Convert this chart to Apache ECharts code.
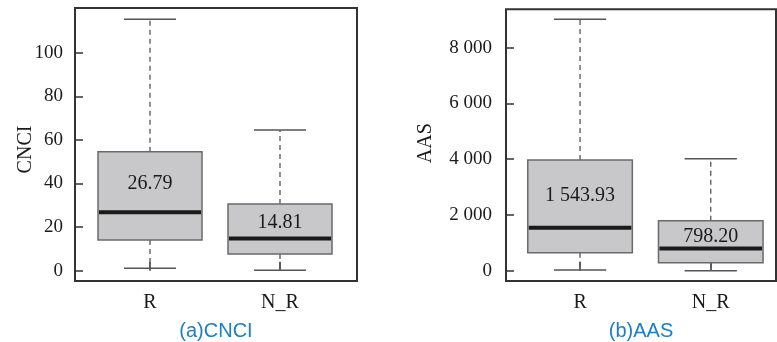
<!DOCTYPE html>
<html>
<head>
<meta charset="utf-8">
<script src="https://cdn.jsdelivr.net/npm/echarts@6/dist/echarts.min.js"></script>
<style>html,body{margin:0;padding:0;background:#fff}#c{width:777px;height:342px}</style>
</head>
<body>
<div id="c"></div>
<script>
const categories = ['R', 'N_R'];
// CNCI box statistics: [lower whisker, Q1, median, Q3, upper whisker]
const cnciLow = [1.1, 0.2];
const cnciQ1 = [14.1, 7.7];
const cnciMedian = [26.79, 14.81];
const cnciQ3 = [54.6, 30.6];
const cnciHigh = [115.3, 64.5];
// AAS box statistics
const aasLow = [25, 0];
const aasQ1 = [646, 287];
const aasMedian = [1543.93, 798.20];
const aasQ3 = [3971, 1794];
const aasHigh = [9019, 4018];
// axis settings
const cnciAxis = {min: 0, max: 100, interval: 20};
const aasAxis = {min: 0, max: 8000, interval: 2000};
const panelTitles = ['(a)CNCI', '(b)AAS'];
const axisNames = ['CNCI', 'AAS'];

function fmt(v, d) {
  const s = d === undefined ? String(v) : v.toFixed(d);
  const parts = s.split('.');
  parts[0] = parts[0].replace(/\B(?=(\d{3})+(?!\d))/g, ' ');
  return parts.join('.');
}

function buildData(lo, q1, med, q3, hi) {
  return categories.map((c, i) => [i, lo[i], q1[i], med[i], q3[i], hi[i]]);
}

const SERIF = 'Liberation Serif';
const boxFill = '#c8c8ca';
const boxStroke = '#6a6a6a';
const whiskerColor = '#555555';

function renderBox(params, api) {
  const i = api.value(0);
  const lo = api.coord([i, api.value(1)]);
  const q1 = api.coord([i, api.value(2)]);
  const med = api.coord([i, api.value(3)]);
  const q3 = api.coord([i, api.value(4)]);
  const hi = api.coord([i, api.value(5)]);
  const band = api.size([1, 0])[0];
  const w = band * 0.8;
  const cw = band * 0.4;
  const cx = lo[0];
  const children = [
    {type: 'line', shape: {x1: cx, y1: q3[1], x2: cx, y2: hi[1]},
     style: {stroke: whiskerColor, lineWidth: 1.3, lineDash: [5, 4]}},
    {type: 'line', shape: {x1: cx, y1: q1[1], x2: cx, y2: lo[1]},
     style: {stroke: whiskerColor, lineWidth: 1.3, lineDash: [5, 4]}},
    {type: 'line', shape: {x1: cx - cw / 2, y1: hi[1], x2: cx + cw / 2, y2: hi[1]},
     style: {stroke: whiskerColor, lineWidth: 1.5}},
    {type: 'line', shape: {x1: cx - cw / 2, y1: lo[1], x2: cx + cw / 2, y2: lo[1]},
     style: {stroke: whiskerColor, lineWidth: 1.5}},
    {type: 'rect', shape: {x: cx - w / 2, y: q3[1], width: w, height: q1[1] - q3[1]},
     style: {fill: boxFill, stroke: boxStroke, lineWidth: 1.5}},
    {type: 'line', shape: {x1: cx - w / 2 + 1, y1: med[1], x2: cx + w / 2 - 1, y2: med[1]},
     style: {stroke: '#1a1a1a', lineWidth: 4}},
    {type: 'text', x: cx, y: (med[1] + q3[1]) / 2 + 2,
     style: {text: fmt(api.value(3), 2), fill: '#1a1a1a', font: '20px "' + SERIF + '"',
             align: 'center', verticalAlign: 'middle'}}
  ];
  return {type: 'group', children: children};
}

const tickLabel = {fontFamily: SERIF, fontSize: 19, color: '#1a1a1a'};

function dataAxes(gridIndex, axisCfg, yOffset, xOffset, labelMargin) {
  return {
    x: {type: 'category', gridIndex: gridIndex, data: categories, offset: xOffset,
        axisLine: {show: false},
        axisTick: {show: true, inside: true, alignWithLabel: true, length: 9, lineStyle: {color: '#333', width: 1.5}},
        axisLabel: Object.assign({margin: 12}, tickLabel, {fontSize: 20}), splitLine: {show: false}},
    y: {type: 'value', gridIndex: gridIndex, min: axisCfg.min, max: axisCfg.max, interval: axisCfg.interval,
        offset: yOffset, axisLine: {show: false},
        axisTick: {show: true, inside: true, length: 8, lineStyle: {color: '#333', width: 1.5}},
        axisLabel: Object.assign({margin: labelMargin, formatter: v => fmt(v)}, tickLabel),
        splitLine: {show: false}}
  };
}

function frameAxes(gridIndex, title, name, xGap, yGap, namePad) {
  return {
    x: {type: 'value', gridIndex: gridIndex, min: 0, max: 1, axisLine: {show: false}, axisTick: {show: false},
        axisLabel: {show: false}, splitLine: {show: false},
        name: title, nameLocation: 'middle', nameGap: xGap,
        nameTextStyle: {fontFamily: 'Liberation Sans', fontSize: 20, color: '#1a7fc6'}},
    y: {type: 'value', gridIndex: gridIndex, min: 0, max: 1, axisLine: {show: false}, axisTick: {show: false},
        axisLabel: {show: false}, splitLine: {show: false},
        name: name, nameLocation: 'middle', nameGap: yGap,
        nameTextStyle: {fontFamily: SERIF, fontSize: 20, color: '#1a1a1a', padding: namePad}}
  };
}

const a0 = dataAxes(0, cnciAxis, 10, 10.3, 12);
const a1 = frameAxes(1, panelTitles[0], axisNames[0], 40, 39, [0, 10, 0, 0]);
const a2 = dataAxes(2, aasAxis, 8.7, 10.3, 14);
const a3 = frameAxes(3, panelTitles[1], axisNames[1], 40, 70, [0, 0, 0, 4]);

const frameStyle = {show: true, borderColor: '#333', borderWidth: 2, backgroundColor: 'transparent'};
const noBounds = {outerBoundsMode: 'none', containLabel: false};

const option = {
  animation: false,
  grid: [
    Object.assign({left: 85, top: 52.7, width: 260, height: 218, show: false}, noBounds),
    Object.assign({left: 75, top: 8, width: 282, height: 273}, frameStyle, noBounds),
    Object.assign({left: 514.7, top: 47.7, width: 261.4, height: 223, show: false}, noBounds),
    Object.assign({left: 506, top: 9.3, width: 270, height: 271.7}, frameStyle, noBounds)
  ],
  xAxis: [a0.x, a1.x, a2.x, a3.x],
  yAxis: [a0.y, a1.y, a2.y, a3.y],
  series: [
    {type: 'custom', xAxisIndex: 0, yAxisIndex: 0, renderItem: renderBox, clip: false,
     encode: {x: 0, y: [1, 2, 3, 4, 5]},
     data: buildData(cnciLow, cnciQ1, cnciMedian, cnciQ3, cnciHigh)},
    {type: 'custom', xAxisIndex: 2, yAxisIndex: 2, renderItem: renderBox, clip: false,
     encode: {x: 0, y: [1, 2, 3, 4, 5]},
     data: buildData(aasLow, aasQ1, aasMedian, aasQ3, aasHigh)}
  ]
};

const chart = echarts.init(document.getElementById('c'), null, {renderer: 'canvas'});
chart.setOption(option);
</script>
</body>
</html>
